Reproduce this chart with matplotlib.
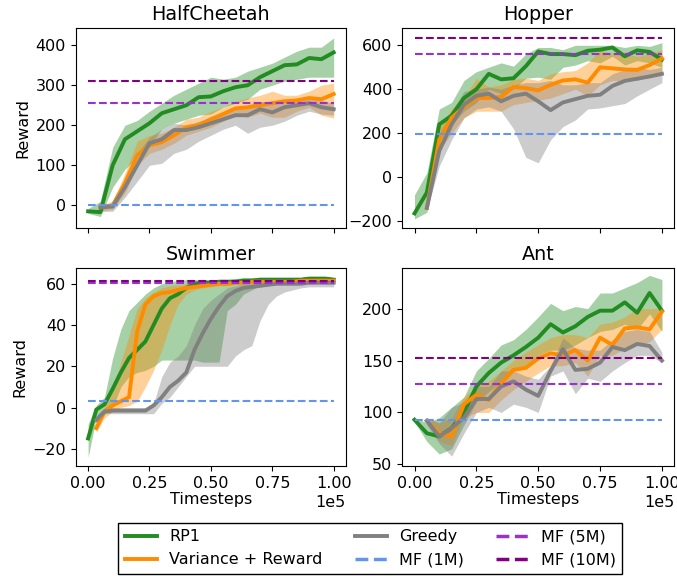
import numpy as np
import matplotlib
matplotlib.use("Agg")
import matplotlib.pyplot as plt
from matplotlib.lines import Line2D

plt.rcParams["font.size"] = 11.5

# timesteps: every 5000 for most envs, swimmer was logged more often
x_all = np.arange(0, 100001, 5000)
x_late = x_all[1:]
x_sw = np.linspace(0, 100000, 31)
x_sw_late = x_sw[1:]

# ---- HalfCheetah ----
hc_rp1 = [-15, -17, 100, 165, 185, 205, 230, 240, 250, 270, 272, 285, 295, 300, 320, 335, 350, 352, 368, 365, 382]
hc_rp1_lo = [-20, -28, 45, 90, 120, 150, 190, 205, 215, 225, 228, 245, 255, 265, 290, 300, 310, 315, 320, 320, 320]
hc_rp1_hi = [-8, 10, 145, 200, 212, 235, 255, 275, 290, 305, 320, 315, 320, 335, 345, 355, 370, 385, 395, 395, 418]
hc_var = [-5, 0, 55, 125, 150, 158, 175, 195, 200, 215, 228, 242, 245, 250, 255, 260, 262, 268, 265, 278]
hc_var_lo = [-15, -10, 30, 100, 130, 140, 155, 175, 185, 195, 210, 225, 220, 230, 220, 220, 235, 245, 225, 218]
hc_var_hi = [0, 10, 80, 160, 175, 180, 195, 215, 220, 235, 245, 260, 268, 275, 285, 275, 275, 285, 300, 305]
hc_greedy = [-5, -3, 45, 100, 155, 165, 188, 188, 195, 205, 215, 225, 225, 240, 232, 245, 250, 255, 245, 240]
hc_greedy_lo = [-15, -15, 20, 60, 100, 105, 130, 140, 160, 175, 190, 200, 180, 195, 200, 210, 225, 235, 228, 225]
hc_greedy_hi = [0, 5, 70, 130, 170, 190, 205, 200, 210, 220, 230, 245, 250, 260, 255, 260, 265, 272, 262, 255]
hc_mf = [2, 255, 310]

# ---- Hopper ----
hop_rp1 = [-165, -70, 240, 280, 360, 400, 470, 445, 450, 505, 572, 560, 560, 555, 575, 580, 590, 550, 577, 570, 535]
hop_rp1_lo = [-190, -160, 180, 240, 300, 340, 400, 380, 400, 450, 455, 445, 500, 510, 530, 520, 550, 510, 530, 520, 500]
hop_rp1_hi = [-80, 20, 310, 340, 440, 480, 500, 520, 505, 560, 590, 590, 580, 600, 600, 600, 600, 590, 600, 595, 612]
hop_var = [-140, 170, 270, 320, 360, 360, 365, 410, 405, 395, 420, 440, 445, 430, 500, 495, 490, 488, 510, 540]
hop_var_lo = [-155, 120, 200, 270, 300, 300, 300, 330, 340, 350, 360, 380, 400, 370, 420, 440, 440, 440, 460, 480]
hop_var_hi = [-125, 230, 310, 360, 450, 410, 420, 445, 450, 440, 470, 480, 485, 520, 580, 560, 560, 550, 560, 580]
hop_greedy = [-140, 120, 240, 330, 370, 380, 345, 370, 380, 345, 305, 340, 355, 370, 375, 415, 438, 448, 458, 470]
hop_greedy_lo = [-150, 50, 170, 270, 310, 320, 300, 220, 90, 65, 170, 230, 260, 310, 315, 325, 335, 370, 400, 430]
hop_greedy_hi = [-120, 200, 300, 390, 400, 410, 400, 420, 430, 430, 440, 420, 420, 430, 430, 470, 490, 500, 490, 500]
hop_mf = [195, 560, 635]

# ---- Swimmer ----
sw_rp1 = [-15, -1, 1.5, 9, 17, 24, 28, 32, 40, 48, 53, 55, 58, 60, 60.5, 60.5, 61, 61, 61, 61.5, 61.5, 62, 62, 62, 62, 62, 62, 62.5, 62.5, 62.5, 62]
sw_rp1_lo = [-24, -5, -2, 0, 10, 15, 17, 18, 20, 23, 23, 23, 23, 23, 22, 22, 22, 47, 50, 55, 57, 59, 60, 60.5, 61, 61, 61, 61, 61.5, 61.5, 61]
sw_rp1_hi = [-8, 1, 5, 24, 38, 47, 51, 55, 58, 60, 61, 61.5, 62, 62, 62, 62, 62, 62, 62.5, 63, 63, 63, 63, 63, 63, 63, 63, 63.5, 63.5, 63.5, 63]
sw_var = [-10, -2, 1, 3, 5, 37, 50, 54, 55.5, 56, 57, 58, 58.5, 59, 59.5, 60, 60, 60.5, 60.5, 61, 61, 61, 61, 61, 61, 61.5, 61.5, 61.5, 61.5, 61.5]
sw_var_lo = [-12, -5, -2, 0, 1, 3, 10, 18, 28, 40, 50, 55, 57, 58, 58.5, 59, 59, 59.5, 60, 60, 60, 60, 60, 60, 60.5, 60.5, 60.5, 60.5, 60.5, 60.5]
sw_var_hi = [-5, 0, 8, 22, 35, 48, 53, 56, 58, 59, 59.5, 60, 60, 60.5, 60.5, 61, 61, 61, 61.5, 61.5, 61.5, 61.5, 61.5, 62, 62, 62, 62, 62, 62, 62]
sw_greedy = [-6, -2, -1.5, -1.5, -1.5, -1.5, -1.5, 1, 5, 10, 13, 17, 28, 36, 43, 49, 54, 56.5, 58, 58.5, 59, 59.5, 60, 60, 60, 60, 60.5, 60.5, 60.5, 60.5]
sw_greedy_lo = [-8, -3, -3, -3, -3, -3, -3, -3, 2, 5, 10, 15, 20, 20, 20, 20, 20, 25, 28, 30, 42, 50, 54, 56, 57, 58, 58.5, 58.5, 58.5, 58.5]
sw_greedy_hi = [-4, 0, 0, 0, 0, 0, 0, 2, 15, 22, 25, 30, 40, 48, 52, 55, 58, 59, 60, 60, 60.5, 61, 61, 61, 61, 61, 61.5, 61.5, 61.5, 61.5]
sw_mf = [3.2, 60.3, 61.3]

# ---- Ant ----
ant_rp1 = [93, 80, 77, 85, 100, 125, 138, 148, 155, 163, 172, 185, 177, 183, 192, 198, 198, 206, 196, 215, 198]
ant_rp1_lo = [91, 72, 60, 65, 88, 110, 120, 130, 140, 145, 155, 160, 160, 165, 172, 178, 180, 185, 180, 195, 178]
ant_rp1_hi = [95, 90, 95, 105, 115, 140, 152, 165, 170, 180, 192, 205, 198, 202, 200, 215, 215, 220, 225, 232, 228]
ant_var = [92, 80, 77, 108, 117, 112, 128, 141, 143, 152, 157, 155, 160, 150, 172, 165, 181, 182, 180, 197]
ant_var_lo = [90, 72, 68, 95, 100, 100, 112, 122, 130, 138, 145, 145, 148, 135, 155, 155, 162, 165, 168, 180]
ant_var_hi = [95, 90, 95, 115, 125, 130, 140, 150, 158, 165, 172, 175, 175, 172, 185, 187, 192, 200, 200, 200]
ant_greedy = [92, 77, 85, 95, 113, 113, 125, 130, 122, 116, 140, 161, 141, 142, 148, 163, 160, 166, 164, 150]
ant_greedy_lo = [88, 70, 58, 80, 100, 105, 100, 108, 105, 100, 135, 140, 118, 133, 130, 140, 148, 155, 155, 148]
ant_greedy_hi = [95, 90, 105, 110, 125, 125, 140, 140, 135, 132, 145, 172, 162, 160, 160, 170, 178, 180, 178, 158]
ant_mf = [93, 127, 152]

c_rp1 = "forestgreen"
c_var = "darkorange"
c_greedy = "gray"
c_mf = ["cornflowerblue", "darkorchid", "purple"]
mf_labels = ["MF (1M)", "MF (5M)", "MF (10M)"]

envs = [
    ("HalfCheetah", x_all, x_late, hc_rp1, hc_rp1_lo, hc_rp1_hi, hc_var, hc_var_lo, hc_var_hi,
     hc_greedy, hc_greedy_lo, hc_greedy_hi, hc_mf, (-57, 442), [0, 100, 200, 300, 400]),
    ("Hopper", x_all, x_late, hop_rp1, hop_rp1_lo, hop_rp1_hi, hop_var, hop_var_lo, hop_var_hi,
     hop_greedy, hop_greedy_lo, hop_greedy_hi, hop_mf, (-232, 677), [-200, 0, 200, 400, 600]),
    ("Swimmer", x_sw, x_sw_late, sw_rp1, sw_rp1_lo, sw_rp1_hi, sw_var, sw_var_lo, sw_var_hi,
     sw_greedy, sw_greedy_lo, sw_greedy_hi, sw_mf, (-28.4, 67.6), [-20, 0, 20, 40, 60]),
    ("Ant", x_all, x_late, ant_rp1, ant_rp1_lo, ant_rp1_hi, ant_var, ant_var_lo, ant_var_hi,
     ant_greedy, ant_greedy_lo, ant_greedy_hi, ant_mf, (48.4, 239), [50, 100, 150, 200]),
]

fig = plt.figure(figsize=(6.77, 5.79), dpi=100)
rects = [
    [0.112, 0.606, 0.399, 0.345],
    [0.594, 0.606, 0.402, 0.345],
    [0.112, 0.195, 0.399, 0.342],
    [0.594, 0.195, 0.402, 0.342],
]

for i, env in enumerate(envs):
    (name, xa, xl, rp, rp_lo, rp_hi, va, va_lo, va_hi, gr, gr_lo, gr_hi, mf, ylim, yt) = env
    ax = fig.add_axes(rects[i])
    ax.fill_between(xa, rp_lo, rp_hi, color=c_rp1, alpha=0.4, lw=0)
    ax.fill_between(xl, va_lo, va_hi, color=c_var, alpha=0.4, lw=0)
    ax.fill_between(xl, gr_lo, gr_hi, color=c_greedy, alpha=0.4, lw=0)
    ax.plot(xa, rp, color=c_rp1, lw=2.8)
    ax.plot(xl, va, color=c_var, lw=2.8)
    ax.plot(xl, gr, color=c_greedy, lw=2.8)
    for v, c in zip(mf, c_mf):
        ax.plot([0, 100000], [v, v], color=c, lw=1.5, ls="--")
    ax.set_title(name, fontsize=13.8)
    ax.set_ylim(ylim)
    ax.set_yticks(yt)
    ax.set_xlim(-5000, 105000)
    ax.set_xticks([0, 25000, 50000, 75000, 100000])
    ax.ticklabel_format(style="sci", axis="x", scilimits=(0, 0))
    if i < 2:
        ax.tick_params(labelbottom=False)
        ax.xaxis.get_offset_text().set_visible(False)
    else:
        ax.set_xlabel("Timesteps", labelpad=1)
    if i % 2 == 0:
        ax.set_ylabel("Reward")

handles = [
    Line2D([], [], color=c_rp1, lw=2.8),
    Line2D([], [], color=c_var, lw=2.8),
    Line2D([], [], color=c_greedy, lw=2.8),
    Line2D([], [], color=c_mf[0], lw=2.5, ls="--"),
    Line2D([], [], color=c_mf[1], lw=2.5, ls="--"),
    Line2D([], [], color=c_mf[2], lw=2.5, ls="--"),
]
labels = ["RP1", "Variance + Reward", "Greedy"] + mf_labels
fig.legend(handles, labels, ncol=3, loc="upper center", bbox_to_anchor=(0.547, 0.097),
           fancybox=False, edgecolor="black", framealpha=1, borderaxespad=0,
           fontsize=11.5)

fig.savefig("out.png", dpi=100)
